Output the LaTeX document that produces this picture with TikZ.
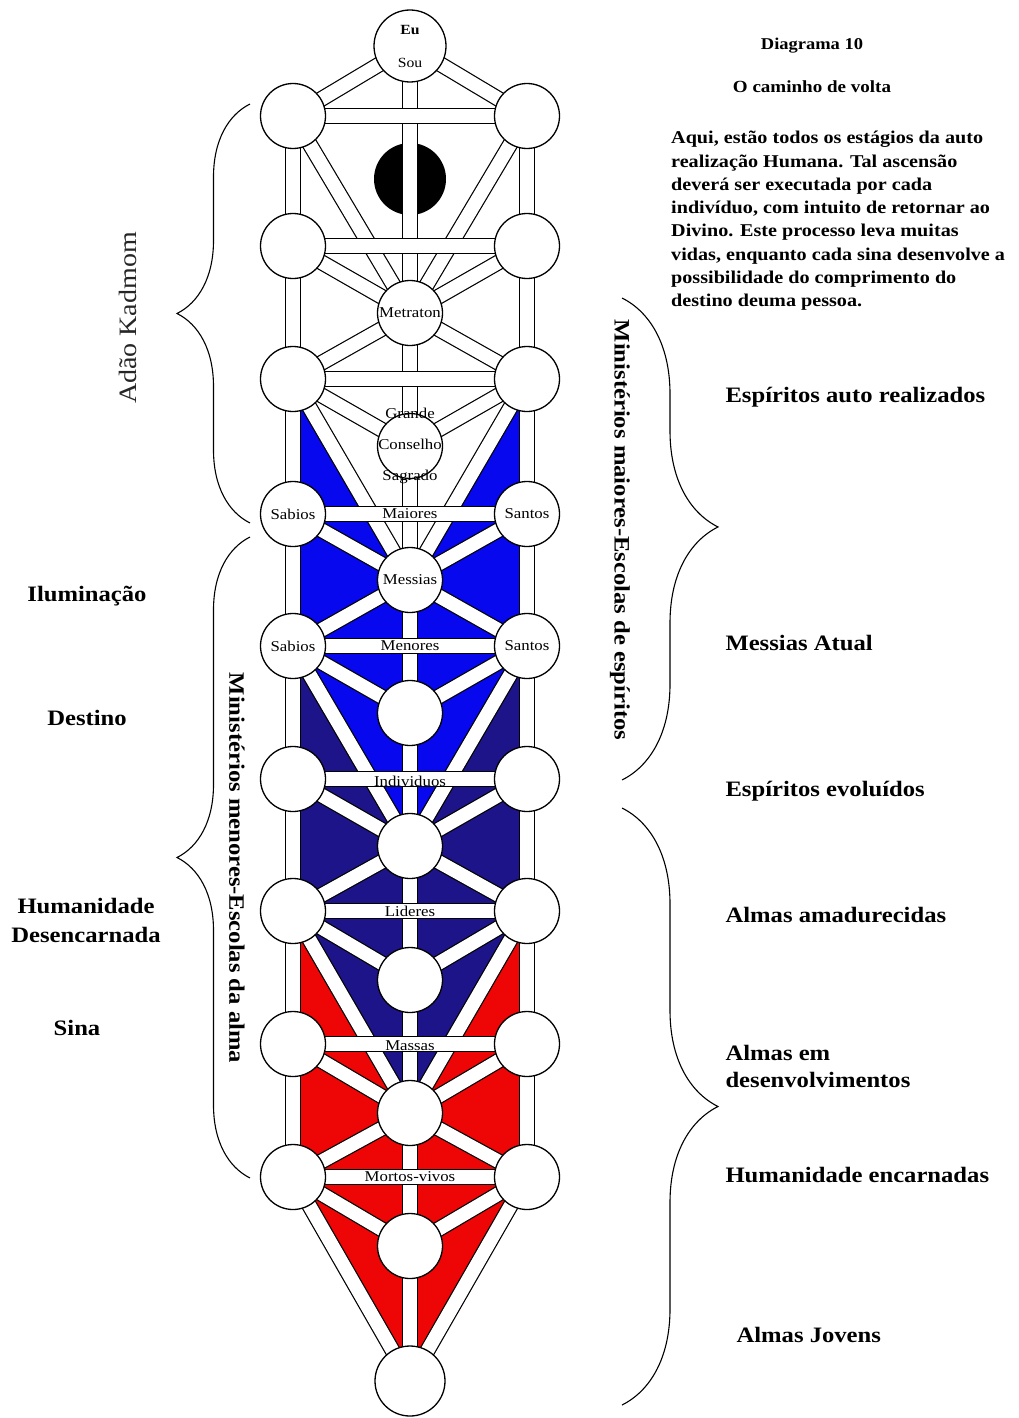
\documentclass[tikz,border=0pt]{standalone}
\usepackage{fontspec}
\setmainfont{Liberation Serif}[FakeStretch=1.12]
\usepackage{tikz}
\usetikzlibrary{decorations.pathreplacing}
\usepackage{xcolor}
\definecolor{tblue}{RGB}{8,8,238}
\definecolor{tnavy}{RGB}{30,20,138}
\definecolor{tred}{RGB}{238,6,6}
\pgfdeclarelayer{fills}
\pgfdeclarelayer{paths}
\pgfsetlayers{fills,paths,main}
\tikzstyle{sefira} = [
    circle, draw=black, line width=1.3pt, fill=white, minimum size=65pt,
    inner sep=0pt, font=\fontsize{15}{17}\selectfont
]
\tikzstyle{bar} = [draw=black, line width=1.2pt, double=white, double distance=13.5pt]
\tikzstyle{barlbl} = [inner sep=0pt, font=\fontsize{15}{17}\selectfont]
\tikzstyle{stage} = [anchor=west, align=left, font=\fontsize{22}{27}\selectfont\bfseries]
\tikzstyle{phase} = [align=center, font=\fontsize{22}{29}\selectfont\bfseries]
\tikzstyle{ministry} = [rotate=-90, font=\fontsize{22}{26}\selectfont\bfseries]
\tikzstyle{leftbrace} = [decorate, decoration={brace, amplitude=73pt}, line width=1.1pt]
\tikzstyle{rightbrace} = [decorate, decoration={brace, amplitude=96pt}, line width=1.1pt]

\begin{document}
\begin{tikzpicture}[x=1pt, y=-1pt]
    \useasboundingbox (0,0) rectangle (1019,1418);
    % Side pillars
    \foreach \k/\y in {0/116,1/246,2/379,5/779,6/911,7/1044,8/1177} {
        \node[sefira] (L\k) at (293,\y) {};
        \node[sefira] (R\k) at (527,\y) {};
    }
    \node[sefira] (L3) at (293,514) {Sabios};
    \node[sefira] (R3) at (527,514) {Santos};
    \node[sefira] (L4) at (293,646) {Sabios};
    \node[sefira] (R4) at (527,646) {Santos};
    % Middle pillar
    \node[sefira, minimum size=72pt, align=center, font=\fontsize{14}{16}\selectfont] (M0) at (410,46) {\textbf{Eu}\\[17pt]Sou};
    \begin{pgfonlayer}{paths}
        \node[circle, fill=black, minimum size=72pt] (M1) at (410,179) {};
    \end{pgfonlayer}
    \node[sefira] (M2) at (410,313) {Metraton};
    \node[sefira] (M3) at (410,446) {};
    \node[sefira] (M4) at (410,580) {Messias};
    \foreach \k/\y in {5/713,6/846,7/980,8/1113,9/1246} {
        \node[sefira] (M\k) at (410,\y) {};
    }
    \node[sefira, minimum size=70pt] (M10) at (410,1381) {};
    % Coloured fields
    \begin{pgfonlayer}{fills}
        \fill[tblue, even odd rule] (L2.center) -- (L8.center) -- (R8.center) -- (R2.center) -- cycle
            (L2.center) -- (M4.center) -- (R2.center) -- cycle;
        \fill[tnavy, even odd rule] (L4.center) -- (L8.center) -- (R8.center) -- (R4.center) -- cycle
            (L4.center) -- (M6.center) -- (R4.center) -- cycle;
        \fill[tred, even odd rule] (L6.center) -- (L8.center) -- (R8.center) -- (R6.center) -- cycle
            (L6.center) -- (M8.center) -- (R6.center) -- cycle;
        \fill[tred] (L8.center) -- (M10.center) -- (R8.center) -- cycle;
    \end{pgfonlayer}
    % Paths
    \begin{pgfonlayer}{paths}
        \foreach \a/\b in {0/1,1/2,2/3,3/4,4/5,5/6,6/7,7/8,8/9,9/10}
            \draw[bar] (M\a.center) -- (M\b.center);
        \foreach \a/\b in {0/1,1/2,2/3,3/4,4/5,5/6,6/7,7/8} {
            \draw[bar] (L\a.center) -- (L\b.center);
            \draw[bar] (R\a.center) -- (R\b.center);
        }
        \foreach \s/\m in {0/0,2/2,4/4,6/6,8/8,0/2,2/4,4/6,6/8,8/10,1/2,2/3,3/4,4/5,5/6,6/7,7/8,8/9} {
            \draw[bar] (L\s.center) -- (M\m.center);
            \draw[bar] (R\s.center) -- (M\m.center);
        }
        \foreach \k in {0,1,2}
            \draw[bar] (L\k.center) -- (R\k.center);
        \draw[bar] (L3.center) -- node[barlbl] (h3) {Maiores} (R3.center);
        \draw[bar] (L4.center) -- node[barlbl] (h4) {Menores} (R4.center);
        \draw[bar] (L5.center) -- node[barlbl, yshift=-2pt] (h5) {Individuos} (R5.center);
        \draw[bar] (L6.center) -- node[barlbl] (h6) {Lideres} (R6.center);
        \draw[bar] (L7.center) -- node[barlbl, yshift=-2pt] (h7) {Massas} (R7.center);
        \draw[bar] (L8.center) -- node[barlbl] (h8) {Mortos-vivos} (R8.center);
    \end{pgfonlayer}
    \node[align=center, font=\fontsize{15}{17}\selectfont] (M3txt) at (M3) {Grande\\[14pt]Conselho\\[14pt]Sagrado};

    % Title and text
    \node[font=\fontsize{16.5}{20}\selectfont\bfseries] (diag) at (812,46) {Diagrama 10};
    \node[font=\fontsize{17}{20}\selectfont\bfseries] (way) at (812,87) {O caminho de volta};
    \node[anchor=north west, align=left, inner sep=0pt, font=\fontsize{18}{23.3}\selectfont\bfseries] (intro) at (671,131)
        {Aqui, estão todos os estágios da auto\\
         realização Humana. Tal ascensão\\
         deverá ser executada por cada\\
         indivíduo, com intuito de retornar ao\\
         Divino. Este processo leva muitas\\
         vidas, enquanto cada sina desenvolve a\\
         possibilidade do comprimento do\\
         destino deuma pessoa.};

    % Left side
    \node[rotate=90, text=black!85, font=\fontsize{25}{30}\selectfont] (adam) at (128,318) {Adão Kadmom};
    \draw[leftbrace] (250,523) -- (250,104);
    \draw[leftbrace] (250,1178) -- (250,537);
    \node[ministry] (minor) at (237,868) {Ministérios menores-Escolas da alma};
    \node[phase] (illum) at (87,596) {Iluminação};
    \node[phase] (fate) at (87,718) {Destino};
    \node[phase] (disc) at (86,920) {Humanidade\\Desencarnada};
    \node[phase] (sina) at (77,1028) {Sina};

    % Right side
    \draw[rightbrace, decoration={aspect=0.475}] (622,298) -- (622,780);
    \draw[rightbrace] (622,808) -- (622,1405);
    \node[ministry] (major) at (620,530) {Ministérios maiores-Escolas de espíritos};
    \node[stage] (st1) at (722,397) {Espíritos auto realizados};
    \node[stage] (st2) at (722,643) {Messias Atual};
    \node[stage] (st3) at (722,791) {Espíritos evoluídos};
    \node[stage] (st4) at (722,915) {Almas amadurecidas};
    \node[stage] (st5) at (722,1066) {Almas em\\desenvolvimentos};
    \node[stage] (st6) at (722,1175) {Humanidade encarnadas};
    \node[stage] (st7) at (733,1335) {Almas Jovens};
\end{tikzpicture}
\end{document}
